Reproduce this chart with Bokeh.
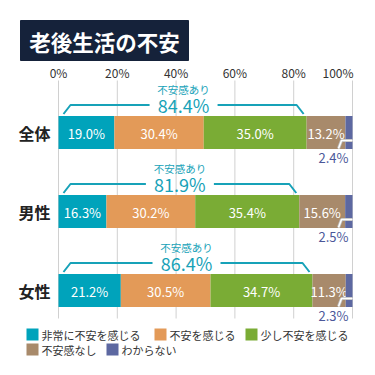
from bokeh.plotting import figure
from bokeh.models import Range1d
from bokeh.core.properties import value
from bokeh.embed import file_html
from bokeh.resources import INLINE

# ---- data ----
title = "老後生活の不安"
groups = ["全体", "男性", "女性"]
series = ["非常に不安を感じる", "不安を感じる", "少し不安を感じる", "不安感なし", "わからない"]
very_anxious = [19.0, 16.3, 21.2]
anxious = [30.4, 30.2, 30.5]
slightly = [35.0, 35.4, 34.7]
not_anxious = [13.2, 15.6, 11.3]
unknown = [2.4, 2.5, 2.3]
anxious_total = [84.4, 81.9, 86.4]
total_label = "不安感あり"
ticks = [0, 20, 40, 60, 80, 100]
tick_labels = ["0%", "20%", "40%", "60%", "80%", "100%"]
colors = ["#00a3bb", "#e39a58", "#7aac35", "#a88a6b", "#5d68a1"]

FONT = value("Noto Sans CJK JP")
TEAL = "#17a2b8"
W = H = 375
X0 = 58.0        # pixel of 0%
SC = 2.94        # pixels per percent


def px(xp):
    return (xp - X0) / SC


def dpx(d):
    return d / SC


p = figure(width=W, height=H, x_range=Range1d(px(0), px(W)), y_range=Range1d(H, 0),
           x_axis_type=None, y_axis_type=None, toolbar_location=None,
           output_backend="svg", min_border=0)
p.outline_line_color = None
p.background_fill_color = "white"
p.border_fill_color = "white"

# title box
p.quad(left=[px(20)], right=[px(188)], top=[20], bottom=[60], color="#15223a")
p.text(x=[px(104)], y=[41], text=[title], text_color="white", text_font=FONT,
       text_font_size="21.5px", text_font_style="bold", text_align="center",
       text_baseline="middle")

# gridlines and tick labels
p.segment(x0=ticks, x1=ticks, y0=[80] * len(ticks), y1=[318] * len(ticks),
          line_color="#d0d0d0", line_width=1)
tx = [t for t in ticks[:-1]] + [ticks[-1] + dpx(1)]
aligns = ["center"] * (len(ticks) - 1) + ["right"]
for t, lab, al in zip(tx, tick_labels, aligns):
    p.text(x=[t], y=[72], text=[lab], text_color="#333333", text_font=FONT,
           text_font_size="12px", text_align=al, text_baseline="middle")

rows = [132, 211, 290]
BH = 33
vals = [very_anxious, anxious, slightly, not_anxious, unknown]

for gi, g in enumerate(groups):
    cy = rows[gi]
    left = 0.0
    for si in range(len(series)):
        v = vals[si][gi]
        p.hbar(y=[cy], left=[left], right=[left + v], height=BH, color=colors[si],
               line_color=None)
        if si < 4:
            p.text(x=[left + v / 2], y=[cy + 1], text=[f"{v:.1f}%"], text_color="white",
                   text_font=FONT, text_font_size="13px", text_align="center",
                   text_baseline="middle")
        left += v
    # category label
    p.text(x=[px(34)], y=[cy], text=[g], text_color="#222222", text_font=FONT,
           text_font_size="16px", text_font_style="bold", text_align="center",
           text_baseline="middle")
    # bracket for total anxious
    top = cy - BH / 2
    s = dpx(5)
    e = anxious_total[gi] - dpx(3)
    c = (s + e) / 2
    hg = dpx(34)
    p.line(x=[s, s + dpx(7), c - hg], y=[top - 2, top - 11, top - 11],
           line_color=TEAL, line_width=2)
    p.line(x=[c + hg, e - dpx(7), e], y=[top - 11, top - 11, top - 2],
           line_color=TEAL, line_width=2)
    p.text(x=[c], y=[top - 11], text=[f"{anxious_total[gi]:.1f}%"], text_color=TEAL,
           text_font=FONT, text_font_size="18px", text_align="center",
           text_baseline="middle")
    p.text(x=[c], y=[top - 27], text=[total_label], text_color=TEAL,
           text_font=FONT, text_font_size="10.5px", text_align="center",
           text_baseline="middle")
    # leader for small value
    lx = [100, 100 - dpx(11), 100 - dpx(14)]
    ly = [cy + 8, cy + 8, cy + 16]
    p.line(x=lx, y=ly, line_color="#bbbbbb", line_width=3.2)
    p.line(x=lx, y=ly, line_color="white", line_width=1.6)
    p.text(x=[100 - dpx(4)], y=[cy + 25], text=[f"{unknown[gi]:.1f}%"],
           text_color="#4b5799", text_font=FONT, text_font_size="13px",
           text_align="right", text_baseline="middle")

# legend
leg_pos = [(26, 334), (154, 334), (245, 334), (26, 349), (106, 349)]
for (lxp, lyp), name, col in zip(leg_pos, series, colors):
    p.rect(x=[px(lxp + 6)], y=[lyp], width=dpx(12), height=12, color=col, line_color=None)
    p.text(x=[px(lxp + 15)], y=[lyp], text=[name], text_color="#333333", text_font=FONT,
           text_font_size="11px", text_align="left", text_baseline="middle")

open("out.html", "w").write(file_html(p, INLINE))
